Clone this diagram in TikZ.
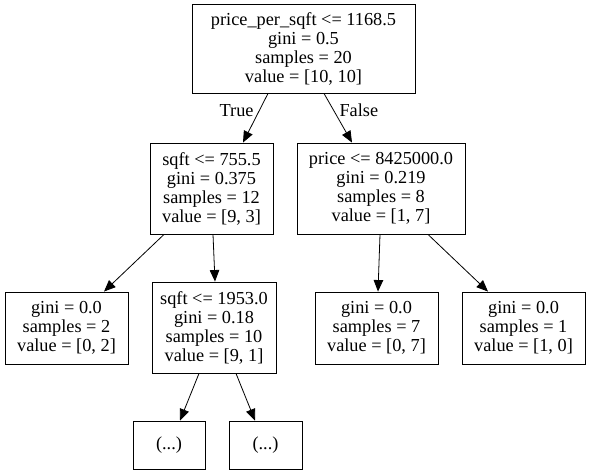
\documentclass[tikz,border=0pt]{standalone}
\usepackage{fontspec}
\setmainfont{Liberation Serif}
\usetikzlibrary{arrows.meta}

\begin{document}
\begin{tikzpicture}[x=1pt,y=-1pt,>={Triangle[length=11.5pt,width=9.5pt]},
  box/.style={draw,line width=0.9pt,align=center,inner sep=0pt,font=\fontsize{18.3}{19}\selectfont},
  edge/.style={->,line width=0.8pt}]
\useasboundingbox (0,0) rectangle (591,475);
% split nodes
\node[box,minimum width=223pt,minimum height=89pt](root)at(303.5,48.5){price\_per\_sqft <= 1168.5\\gini = 0.5\\samples = 20\\value = [10, 10]};
\node[box,minimum width=123pt,minimum height=91pt](sqftA)at(211.5,188.5){sqft <= 755.5\\gini = 0.375\\samples = 12\\value = [9, 3]};
\node[box,minimum width=168pt,minimum height=91pt](price)at(381,188.5){price <= 8425000.0\\gini = 0.219\\samples = 8\\value = [1, 7]};
\node[box,minimum width=124pt,minimum height=91pt](sqftB)at(214,327.5){sqft <= 1953.0\\gini = 0.18\\samples = 10\\value = [9, 1]};
% leaves
\node[box,minimum width=123pt,minimum height=72pt](leafA)at(66.5,328){gini = 0.0\\samples = 2\\value = [0, 2]};
\node[box,minimum width=123pt,minimum height=72pt](leafB)at(376.5,328){gini = 0.0\\samples = 7\\value = [0, 7]};
\node[box,minimum width=123pt,minimum height=72pt](leafC)at(523.5,328){gini = 0.0\\samples = 1\\value = [1, 0]};
\node[box,minimum width=72pt,minimum height=48pt](moreA)at(169,445){(...)};
\node[box,minimum width=73pt,minimum height=48pt](moreB)at(265.5,445){(...)};
% edges
\draw[edge](root.south -| 268,0)--(sqftA.north -| 243,0)node[pos=0.35,left=2pt,font=\fontsize{18.3}{19}\selectfont]{True};
\draw[edge](root.south -| 324,0)--(price.north -| 352,0)node[pos=0.35,right=2pt,font=\fontsize{18.3}{19}\selectfont]{False};
\draw[edge](sqftA.south -| 164,0)--(leafA.north -| 104,0);
\draw[edge](sqftA.south -| 213,0)--(sqftB.north -| 215,0);
\draw[edge](price.south -| 380,0)--(leafB.north -| 378,0);
\draw[edge](price.south -| 428,0)--(leafC.north -| 488,0);
\draw[edge](sqftB.south -| 199,0)--(moreA.north -| 180,0);
\draw[edge](sqftB.south -| 236,0)--(moreB.north -| 255,0);
\end{tikzpicture}
\end{document}
